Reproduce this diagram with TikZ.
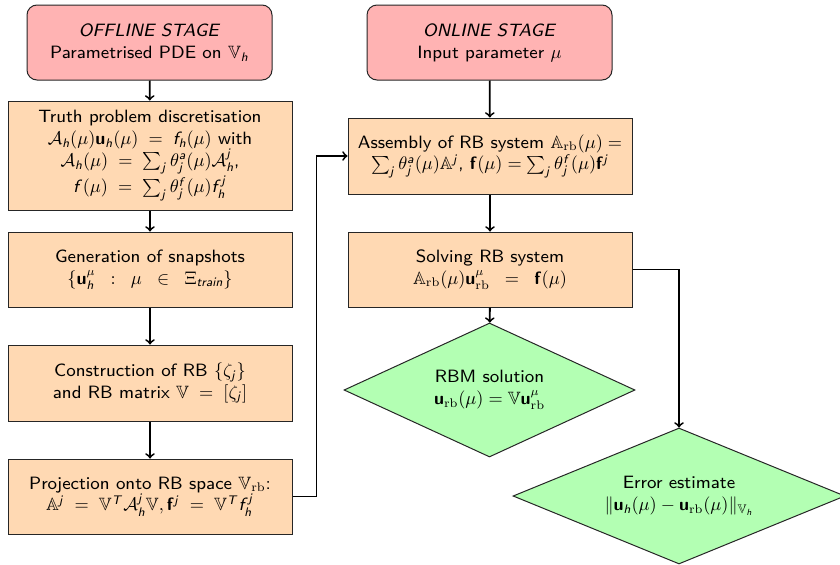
\documentclass[tikz,border=0pt]{standalone}
\usepackage{amsmath,amssymb}
\usetikzlibrary{shapes.geometric,positioning}
\DeclareFontFamily{TU}{lmssviii}{}
\DeclareFontShape{TU}{lmssviii}{m}{n}{<-> "[lmsans8-regular]:mapping=tex-text;"}{}
\DeclareFontShape{TU}{lmssviii}{m}{it}{<-> "[lmsans8-oblique]:mapping=tex-text;"}{}
\DeclareFontShape{TU}{lmssviii}{m}{sl}{<-> "[lmsans8-oblique]:mapping=tex-text;"}{}
\DeclareFontFamily{OT1}{cmssviii}{}
\DeclareFontShape{OT1}{cmssviii}{m}{sl}{<-> cmssi8}{}
\DeclareFontShape{OT1}{cmssviii}{bx}{n}{<-> cmssbx10}{}
\DeclareSymbolFont{sfletters}{OT1}{cmssviii}{m}{sl}
\newcommand{\sfl}[1]{\DeclareMathSymbol{#1}{\mathalpha}{sfletters}{`#1}}
\sfl a\sfl b\sfl c\sfl d\sfl e\sfl f\sfl g\sfl h\sfl i\sfl j\sfl k\sfl l\sfl m
\sfl n\sfl o\sfl p\sfl q\sfl r\sfl s\sfl t\sfl u\sfl v\sfl w\sfl x\sfl y\sfl z
\sfl A\sfl B\sfl C\sfl D\sfl E\sfl F\sfl G\sfl H\sfl I\sfl J\sfl K\sfl L\sfl M
\sfl N\sfl O\sfl P\sfl Q\sfl R\sfl S\sfl T\sfl U\sfl V\sfl W\sfl X\sfl Y\sfl Z
\DeclareMathAlphabet{\mathbf}{OT1}{cmssviii}{bx}{n}
\definecolor{stagefill}{RGB}{255,179,179}
\definecolor{boxfill}{RGB}{255,217,179}
\definecolor{diafill}{RGB}{179,255,179}
\newcommand{\rbx}{\textrm{rb}}
\begin{document}
\begin{tikzpicture}[x=0.6pt,y=-0.6pt,
  font=\fontfamily{lmssviii}\fontsize{10.7pt}{13.1pt}\selectfont,
  stagebox/.style={draw=black!85, line width=0.6pt, fill=stagefill, rounded corners=6pt, minimum width=147pt, minimum height=45pt, align=center, inner sep=1pt},
  procbox/.style={draw=black!85, line width=0.6pt, fill=boxfill, minimum width=170.4pt, align=center, inner sep=1pt},
  resdia/.style={draw=black!85, line width=0.6pt, fill=diafill, diamond, aspect=2.2, inner sep=0pt, align=center},
  conn/.style={->, line width=1.1pt, draw=black}]
\useasboundingbox (0,0) rectangle (840,564);

% left column
\node[stagebox] (off) at (149.5,42.5) {\textit{OFFLINE STAGE}\\Parametrised PDE on $\mathbb{V}_h$};
\node[procbox, minimum height=65.4pt] (truth) at (150,155.5) {Truth problem discretisation\\
$\mathcal{A}_h(\mu)\mathbf{u}_h(\mu) \;=\; f_h(\mu)$ with\\
$\mathcal{A}_h(\mu) \;=\; \sum_j \theta_j^a(\mu)\mathcal{A}_h^j$,\\
$f(\mu) \;=\; \sum_j \theta_j^f(\mu) f_h^j$};
\node[procbox, minimum height=45pt] (gen) at (150,269.5) {Generation of snapshots\\
$\{\mathbf{u}_h^{\mu} \;\;:\;\; \mu \;\;\in\;\; \Xi_{train}\}$};
\node[procbox, minimum height=45.6pt] (cons) at (150,383) {Construction of RB $\{\zeta_j\}$\\
and RB matrix $\mathbb{V} \;=\; [\zeta_j]$};
\node[procbox, minimum height=45pt] (proj) at (150,496.5) {Projection onto RB space $\mathbb{V}_{\rbx}$:\\
$\mathbb{A}^j \;=\; \mathbb{V}^T\mathcal{A}_h^j\mathbb{V}, \mathbf{f}^j \;=\; \mathbb{V}^T f_h^j$};

% right column
\node[stagebox] (on) at (489.5,42.5) {\textit{ONLINE STAGE}\\Input parameter $\mu$};
\node[procbox, minimum height=45.6pt] (asm) at (490,156) {Assembly of RB system $\mathbb{A}_{\rbx}(\mu) =$\\
$\sum_j \theta_j^a(\mu)\mathbb{A}^j$, $\mathbf{f}(\mu) = \sum_j \theta_j^f(\mu)\mathbf{f}^j$};
\node[procbox, minimum height=45pt] (solve) at (490,269.5) {Solving RB system\\
$\mathbb{A}_{\rbx}(\mu)\mathbf{u}_{\rbx}^{\mu} \;\;=\;\; \mathbf{f}(\mu)$};
\node[resdia, minimum width=174.6pt, minimum height=80.4pt] (rbm) at (489.5,390) {RBM solution\\
$\mathbf{u}_{\rbx}(\mu) = \mathbb{V}\mathbf{u}_{\rbx}^{\mu}$};
\node[resdia, minimum width=199.2pt, minimum height=81.6pt] (err) at (679,496) {Error estimate\\
$\|\mathbf{u}_h(\mu) - \mathbf{u}_{\rbx}(\mu)\|_{\mathbb{V}_h}$};

% connectors
\draw[conn] (off) -- (truth);
\draw[conn] (truth) -- (gen);
\draw[conn] (gen) -- (cons);
\draw[conn] (cons) -- (proj);
\draw[conn] (proj.east) -- ++(24,0) |- (asm.west);
\draw[conn] (on) -- (asm);
\draw[conn] (asm) -- (solve);
\draw[conn] (solve) -- (rbm);
\draw[conn] (solve.east) -| (err.north);
\end{tikzpicture}
\end{document}
